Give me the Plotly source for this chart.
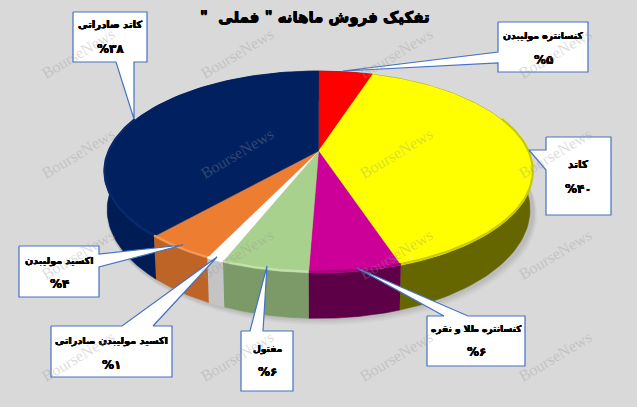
import numpy as np
import plotly.graph_objects as go

title = 'تفکیک فروش ماهانه " فملی  "'
categories = ["کنسانتره مولیبدن", "کاتد", "کنسانتره طلا و نقره", "مفتول",
              "اکسید مولیبدن صادراتی", "اکسید مولیبدن", "کاتد صادراتی"]
values = [5, 39.9, 5.7, 5.4, 1.1, 4.45, 38.45]
pct_labels = ["%۵", "%۴۰", "%۶", "%۶", "%۱", "%۴", "%۳۸"]

top_colors = ["#ff0000", "#ffff00", "#cc0099", "#a9d18e", "#ffffff", "#ed7d31", "#002060"]
side_colors = ["#800000", "#666600", "#5e0048", "#7c9a68", "#c4c4c4", "#bd6426", "#001c55"]
bevel_colors = ["#ff0000", "#c9c900", "#a5007c", "#c3e2aa", "#ffffff", "#f29a5a", "#062a6c"]

# projection of the tilted disc onto the page
CX, CY, A, B, K, DEPTH = 318.6, 151, 209.5, 96.6, 0.208, 36


def rim(t, drop=0.0, grow=1.0):
    u, v = np.sin(t), np.cos(t)
    d = 1 + K * v
    x = CX + grow * A * u / d
    y = CY - grow * B * v / d + drop / d
    return x, y


fig = go.Figure()


def poly(x, y, color, line=0.6, line_color=None):
    fig.add_trace(go.Scatter(x=list(x), y=list(y), mode="lines", fill="toself",
                             fillcolor=color,
                             line=dict(color=line_color or color, width=line),
                             hoverinfo="skip", showlegend=False))


# soft shadow under the disc
t_all = np.linspace(0, 2 * np.pi, 361)
for off, alpha in [(9, 0.025), (7, 0.03), (5, 0.035), (3, 0.04)]:
    sx, sy = rim(t_all, DEPTH + off * 0.6)
    poly(sx + off * 0.5, sy, f"rgba(0,0,0,{alpha})", line=0)

edges = np.cumsum([0] + values) / sum(values) * 2 * np.pi

# walls
for i in range(len(values)):
    t = np.linspace(edges[i], edges[i + 1], 90)
    x0, y0 = rim(t)
    x1, y1 = rim(t, DEPTH)
    x1 = CX + (x1 - CX) * 0.987
    poly(np.r_[x0, x1[::-1]], np.r_[y0, y1[::-1]], side_colors[i])

# top faces
for i in range(len(values)):
    t = np.linspace(edges[i], edges[i + 1], 90)
    x0, y0 = rim(t)
    poly(np.r_[CX, x0, CX], np.r_[CY, y0, CY], top_colors[i], line=0.4)

# bevel at the front rim
for i in range(len(values)):
    t = np.linspace(edges[i], edges[i + 1], 90)
    t = t[np.cos(t) < 0.35]
    if len(t) > 1:
        x0, y0 = rim(t, -1.0)
        fig.add_trace(go.Scatter(x=x0, y=y0, mode="lines",
                                 line=dict(color=bevel_colors[i], width=2.2),
                                 hoverinfo="skip", showlegend=False))

# call-outs: box, pointer base 1, pointer base 2, tip, two text rows, label size
BORDER = "#4472c4"
callouts = [
    ((498, 588, 22, 72), (498, 52), (498, 63), (343, 71), 36, 60, 9.3),
    ((546, 611, 137, 215), (546, 150), (546, 170), (529, 150), 164, 189, 10.5),
    ((427, 525, 316, 366), (444, 316), (468, 316), (357, 268), 329, 352, 9),
    ((241, 293, 331, 391), (250, 331), (263, 331), (267, 266), 349, 372, 9),
    ((51, 172, 326, 377), (122, 326), (153, 326), (217, 257), 341, 365, 9.7),
    ((19, 99, 246, 297), (99, 254), (99, 267), (183, 245), 261, 284, 9.6),
    ((73, 147, 12, 62), (116, 62), (134, 62), (134, 119), 25, 49, 10),
]

for (x0, x1, y0, y1), b1, b2, tip, *_ in callouts:
    # outline walks around the box and out through the pointer
    if b1[1] == y0:
        path = [(x0, y0), b1, tip, b2, (x1, y0), (x1, y1), (x0, y1), (x0, y0)]
    elif b1[1] == y1:
        path = [(x0, y0), (x1, y0), (x1, y1), b2, tip, b1, (x0, y1), (x0, y0)]
    elif b1[0] == x0:
        path = [(x0, y0), (x1, y0), (x1, y1), (x0, y1), b2, tip, b1, (x0, y0)]
    else:
        path = [(x0, y0), (x1, y0), b1, tip, b2, (x1, y1), (x0, y1), (x0, y0)]
    px, py = zip(*path)
    poly(px, py, "#ffffff", line=1.2, line_color=BORDER)

HEAVY = "0.35px 0 0 #000, -0.35px 0 0 #000, 0 0.3px 0 #000"
annotations = []
for cat, pct, c in zip(categories, pct_labels, callouts):
    (x0, x1, _, _), _, _, _, ya, yb, size = c
    mid = (x0 + x1) / 2
    for txt, yy, sz in ((cat, ya, size), (pct, yb, 12)):
        annotations.append(dict(x=mid, y=yy, text=txt, showarrow=False, xref="x", yref="y",
                                font=dict(family="DejaVu Sans", size=sz, color="#000000",
                                          weight="bold", shadow=HEAVY)))

annotations.append(dict(x=315, y=17, text="\u200f" + title + "\u200f", showarrow=False, xref="x", yref="y",
                        font=dict(family="DejaVu Sans", size=15, color="#000000", weight="bold",
                                  shadow="0.5px 0 0 #000, -0.5px 0 0 #000, 0 0.5px 0 #000")))

for wy in (53, 153, 254, 356):
    for wx in (78, 237, 396, 555):
        annotations.append(dict(x=wx, y=wy, text="BourseNews", textangle=-31, showarrow=False,
                                xref="x", yref="y",
                                font=dict(family="Liberation Serif", size=16, color="rgba(150,150,150,0.34)")))

fig.update_layout(
    width=637, height=407, margin=dict(l=0, r=0, t=0, b=0),
    paper_bgcolor="#d9d9d9", plot_bgcolor="#d9d9d9", showlegend=False,
    xaxis=dict(range=[0, 637], visible=False, fixedrange=True),
    yaxis=dict(range=[407, 0], visible=False, fixedrange=True),
    annotations=annotations,
)
fig.write_html("out.html", config={"displayModeBar": False},
               post_script="document.body.style.margin='0';")
